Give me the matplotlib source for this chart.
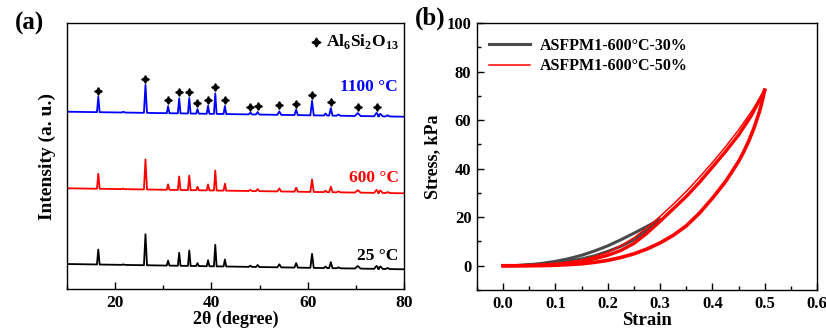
import numpy as np
import matplotlib
matplotlib.use('Agg')
import matplotlib.pyplot as plt
from matplotlib.ticker import MultipleLocator

plt.rcParams['font.family'] = 'Liberation Serif'
plt.rcParams['font.weight'] = 'bold'
plt.rcParams['axes.labelweight'] = 'bold'
plt.rcParams['mathtext.fontset'] = 'custom'
plt.rcParams['mathtext.rm'] = 'Liberation Serif:bold'
plt.rcParams['mathtext.bf'] = 'Liberation Serif:bold'
plt.rcParams['axes.linewidth'] = 1.0

# ---- (a) XRD data: peak positions (2theta), heights and half widths ----
peak_pos = [16.5, 21.7, 26.3, 31.0, 33.3, 35.4, 37.1, 39.3, 40.8, 42.8, 48.1, 49.6,
            54.1, 57.6, 60.9, 63.7, 64.8, 66.4, 70.4, 74.3, 75.1, 76.6]
peak_wid = [0.28, 0.35, 0.32, 0.28, 0.28, 0.28, 0.28, 0.28, 0.28, 0.28, 0.35, 0.35,
            0.4, 0.35, 0.35, 0.35, 0.35, 0.4, 0.6, 0.5, 0.5, 0.45]
h_1100 = [15.5, 0.8, 28, 7, 15, 15.5, 4.5, 8, 20.5, 8, 1.8, 2.5,
          3.5, 5.5, 14.5, 2, 7.5, 1.2, 3, 3.5, 2.5, 1.2]
h_600 = [15, 0.5, 30, 5.5, 13.5, 14.5, 3.5, 6, 20, 7, 1.2, 2,
         3, 4, 12.5, 1.5, 5.5, 1, 2.5, 3, 2.5, 1]
h_25 = [15, 0.5, 31, 5, 13, 15.5, 3, 6, 21.5, 7, 1.2, 2,
        3, 4.5, 14, 1.5, 6, 1, 2.5, 3, 2.5, 1]
# baseline (left end, right end) of each stacked pattern
base_1100 = (177.3, 172.3)
base_600 = (100.7, 95.7)
base_25 = (25.0, 19.7)
# mullite reflections marked on the 1100 C pattern
star_pos = [16.5, 26.3, 31.0, 33.3, 35.4, 37.1, 39.3, 40.8, 42.8, 48.1, 49.6,
            54.1, 57.6, 60.9, 64.8, 70.4, 74.3]
xrd_ticks = [20, 40, 60, 80]

# ---- (b) cyclic compression data ----
strain_30 = [0, .025, .05, .075, .1, .125, .15, .175, .2, .225, .25, .275, .3,
             .29, .275, .25, .225, .2, .175, .15, .125, .1, .075, .05, .025, 0]
stress_30 = [0, 0.1, 0.4, 1.0, 1.8, 2.9, 4.3, 6.1, 8.2, 10.7, 13.4, 16.2, 19.2,
             17.2, 14.6, 10.7, 8.0, 5.9, 4.1, 2.8, 1.8, 1.0, 0.5, 0.2, 0.05, 0]

strain_load = [0, .025, .05, .075, .1, .125, .15, .175, .2, .225, .25, .275, .3,
               .325, .35, .375, .4, .425, .45, .475, .5]
stress_load1 = [0, 0.05, 0.2, 0.45, 0.9, 1.5, 2.4, 3.8, 5.5, 8.2, 11.5, 15.6, 20.3,
                25.3, 30.6, 36.4, 42.5, 49.0, 55.9, 63.6, 72.3]
stress_load2 = [0, 0.02, 0.1, 0.3, 0.6, 1.1, 1.8, 2.9, 4.3, 6.3, 9.2, 13.4, 18.3,
                23.4, 28.5, 34.3, 40.6, 47.0, 53.8, 62.0, 72.3]
strain_unload = [.5, .495, .49, .48, .47, .46, .45, .425, .4, .375, .35, .325, .3,
                 .275, .25, .225, .2, .175, .15, .125, .1, .075, .05, .025, 0]
stress_unload = [72.3, 67.6, 63.5, 57.0, 51.6, 47.0, 42.9, 34.6, 27.8, 21.6, 16.4, 12.5, 9.4,
                 6.9, 4.9, 3.4, 2.2, 1.4, 0.8, 0.45, 0.2, 0.05, 0, 0, 0]
strain_ticks = [0.0, 0.1, 0.2, 0.3, 0.4, 0.5, 0.6]
stress_ticks = [0, 20, 40, 60, 80, 100]


def pattern(pos, hgt, wid, base):
    xs = [10]
    ys = [base[0]]
    for p, h, w in zip(pos, hgt, wid):
        for x, dy in ((p - w, 0), (p, h), (p + w, 0)):
            xs.append(x)
            ys.append(np.interp(x, [10, 80], base) + dy)
    xs.append(80)
    ys.append(base[1])
    return xs, ys


fig = plt.figure(figsize=(8.26, 3.32), dpi=100)
ax1 = fig.add_axes([67/826, 43/332, 337/826, 266/332])
ax2 = fig.add_axes([477/826, 42/332, 340/826, 267/332])

for hgt, base, col in ((h_25, base_25, 'black'), (h_600, base_600, 'red'),
                       (h_1100, base_1100, 'blue')):
    xs, ys = pattern(peak_pos, hgt, peak_wid, base)
    ax1.plot(xs, ys, color=col, lw=1.3)

# star markers above the 1100 C peaks
sx, sy = [], []
for p in star_pos:
    i = peak_pos.index(p)
    sx.append(p)
    sy.append(np.interp(p, [10, 80], base_1100) + h_1100[i] + 6)
ax1.plot(sx, sy, ls='none', marker=(4, 1, 0), ms=5.5, color='black')

ax1.plot([0.739], [0.929], transform=ax1.transAxes, marker=(4, 1, 0), ms=6.5,
         color='black', clip_on=False)
ax1.text(0.768, 0.929, r'Al$_6$Si$_2$O$_{13}$', transform=ax1.transAxes,
         fontsize=12.5, va='center', ha='left')

ax1.text(0.98, (289-87)/266, '1100 °C', color='blue', fontsize=12.5,
         transform=ax1.transAxes, ha='right', va='center')
ax1.text(0.985, (289-178)/266, '600 °C', color='red', fontsize=12.5,
         transform=ax1.transAxes, ha='right', va='center')
ax1.text(0.982, (289-256)/266, '25 °C', color='black', fontsize=12.5,
         transform=ax1.transAxes, ha='right', va='center')

ax1.set_xlim(10, 80)
ax1.set_ylim(0, 266)
ax1.set_yticks([])
ax1.set_xticks(xrd_ticks)
ax1.xaxis.set_minor_locator(MultipleLocator(10))
ax1.tick_params(axis='x', which='major', direction='in', length=5, width=1,
                labelsize=12.5, pad=4)
ax1.tick_params(axis='x', which='minor', direction='in', length=3, width=1)
ax1.set_xlabel('2θ (degree)', fontsize=13, labelpad=0)
ax1.set_ylabel('Intensity (a. u.)', fontsize=14, labelpad=8)
fig.text(15/826, 1 - 23/332, '(a)', fontsize=18, va='center', ha='left')

# ---- (b) ----
ax2.plot(strain_30, stress_30, color='#4a4a4a', lw=2.2,
         label='ASFPM1-600°C-30%')
ax2.plot(strain_load, stress_load1, color='red', lw=1.1,
         label='ASFPM1-600°C-50%')
ax2.plot(strain_load, stress_load2, color='red', lw=2.4)
ax2.plot(strain_unload, stress_unload, color='red', lw=2.6)

ax2.set_xlim(-0.05, 0.6)
ax2.set_ylim(-10, 100)
ax2.set_xticks(strain_ticks)
ax2.set_yticks(stress_ticks)
ax2.xaxis.set_minor_locator(MultipleLocator(0.05))
ax2.yaxis.set_minor_locator(MultipleLocator(10))
ax2.tick_params(which='major', direction='in', length=5, width=1,
                labelsize=12, pad=4)
ax2.tick_params(which='minor', direction='in', length=3, width=1)
ax2.set_xlabel('Strain', fontsize=13.5, labelpad=0)
ax2.set_ylabel('Stress, kPa', fontsize=13, labelpad=4)
ax2.legend(loc='upper left', bbox_to_anchor=(0.035, 0.945), frameon=False,
           fontsize=11.5, handlelength=2.6, handletextpad=0.6, labelspacing=0.3,
           borderpad=0, borderaxespad=0)
fig.text(415/826, 1 - 18/332, '(b)', fontsize=18, va='center', ha='left')

fig.canvas.draw()
for ax in (ax1, ax2):
    for lab in ax.get_xticklabels() + ax.get_yticklabels():
        lab.set_fontweight('bold')
        lab.set_fontfamily('Liberation Serif')

fig.savefig('out.png', dpi=100)
